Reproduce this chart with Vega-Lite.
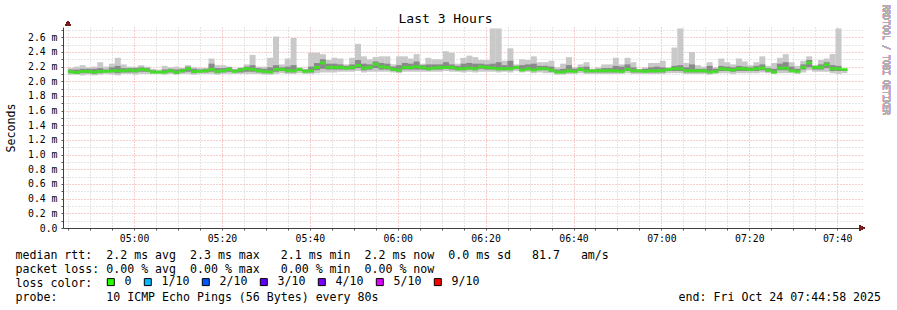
{
  "$schema": "https://vega.github.io/schema/vega-lite/v6.json",
  "width": 801,
  "height": 201,
  "padding": {"left": 5, "top": 5, "right": 0, "bottom": 0},
  "background": "#ffffff",
  "config": {"view": {"stroke": null}, "font": "DejaVu Sans Mono"},
  "title": {"text": "Last 3 Hours", "frame": "group", "anchor": "middle", "dx": -18, "dy": 24, "offset": 3, "font": "DejaVu Sans Mono", "fontSize": 13, "fontWeight": "normal", "color": "#000000"},
  "data": {"values": [
    {"t":"2025-10-24T04:45:38Z","lo":2.09,"q1":2.11,"m":2.130,"q3":2.16,"hi":2.18},
    {"t":"2025-10-24T04:46:58Z","lo":2.09,"q1":2.10,"m":2.121,"q3":2.16,"hi":2.20},
    {"t":"2025-10-24T04:48:18Z","lo":2.08,"q1":2.11,"m":2.134,"q3":2.17,"hi":2.22},
    {"t":"2025-10-24T04:49:38Z","lo":2.09,"q1":2.11,"m":2.134,"q3":2.17,"hi":2.19},
    {"t":"2025-10-24T04:50:58Z","lo":2.08,"q1":2.10,"m":2.125,"q3":2.17,"hi":2.20},
    {"t":"2025-10-24T04:52:18Z","lo":2.09,"q1":2.11,"m":2.134,"q3":2.18,"hi":2.26},
    {"t":"2025-10-24T04:53:38Z","lo":2.10,"q1":2.12,"m":2.134,"q3":2.16,"hi":2.20},
    {"t":"2025-10-24T04:54:58Z","lo":2.09,"q1":2.12,"m":2.143,"q3":2.19,"hi":2.24},
    {"t":"2025-10-24T04:56:18Z","lo":2.08,"q1":2.11,"m":2.143,"q3":2.21,"hi":2.32},
    {"t":"2025-10-24T04:57:38Z","lo":2.10,"q1":2.12,"m":2.143,"q3":2.18,"hi":2.23},
    {"t":"2025-10-24T04:58:58Z","lo":2.10,"q1":2.12,"m":2.153,"q3":2.18,"hi":2.20},
    {"t":"2025-10-24T05:00:18Z","lo":2.09,"q1":2.12,"m":2.143,"q3":2.18,"hi":2.20},
    {"t":"2025-10-24T05:01:38Z","lo":2.10,"q1":2.13,"m":2.162,"q3":2.19,"hi":2.22},
    {"t":"2025-10-24T05:02:58Z","lo":2.10,"q1":2.13,"m":2.153,"q3":2.18,"hi":2.20},
    {"t":"2025-10-24T05:04:18Z","lo":2.10,"q1":2.11,"m":2.125,"q3":2.15,"hi":2.17},
    {"t":"2025-10-24T05:05:38Z","lo":2.10,"q1":2.11,"m":2.125,"q3":2.14,"hi":2.16},
    {"t":"2025-10-24T05:06:58Z","lo":2.09,"q1":2.11,"m":2.125,"q3":2.16,"hi":2.21},
    {"t":"2025-10-24T05:08:18Z","lo":2.10,"q1":2.12,"m":2.143,"q3":2.17,"hi":2.19},
    {"t":"2025-10-24T05:09:38Z","lo":2.09,"q1":2.10,"m":2.121,"q3":2.16,"hi":2.20},
    {"t":"2025-10-24T05:10:58Z","lo":2.10,"q1":2.12,"m":2.143,"q3":2.17,"hi":2.18},
    {"t":"2025-10-24T05:12:18Z","lo":2.10,"q1":2.13,"m":2.171,"q3":2.20,"hi":2.22},
    {"t":"2025-10-24T05:13:38Z","lo":2.09,"q1":2.11,"m":2.134,"q3":2.17,"hi":2.19},
    {"t":"2025-10-24T05:14:58Z","lo":2.10,"q1":2.12,"m":2.134,"q3":2.16,"hi":2.18},
    {"t":"2025-10-24T05:16:18Z","lo":2.10,"q1":2.12,"m":2.143,"q3":2.17,"hi":2.18},
    {"t":"2025-10-24T05:17:38Z","lo":2.10,"q1":2.13,"m":2.162,"q3":2.24,"hi":2.31},
    {"t":"2025-10-24T05:18:58Z","lo":2.09,"q1":2.11,"m":2.134,"q3":2.18,"hi":2.22},
    {"t":"2025-10-24T05:20:18Z","lo":2.10,"q1":2.12,"m":2.143,"q3":2.18,"hi":2.22},
    {"t":"2025-10-24T05:21:38Z","lo":2.10,"q1":2.13,"m":2.162,"q3":2.19,"hi":2.20},
    {"t":"2025-10-24T05:22:58Z","lo":2.10,"q1":2.12,"m":2.134,"q3":2.16,"hi":2.17},
    {"t":"2025-10-24T05:24:18Z","lo":2.10,"q1":2.12,"m":2.153,"q3":2.18,"hi":2.19},
    {"t":"2025-10-24T05:25:38Z","lo":2.10,"q1":2.13,"m":2.171,"q3":2.20,"hi":2.23},
    {"t":"2025-10-24T05:26:58Z","lo":2.10,"q1":2.13,"m":2.162,"q3":2.22,"hi":2.36},
    {"t":"2025-10-24T05:28:18Z","lo":2.10,"q1":2.12,"m":2.143,"q3":2.18,"hi":2.20},
    {"t":"2025-10-24T05:29:38Z","lo":2.09,"q1":2.11,"m":2.134,"q3":2.17,"hi":2.20},
    {"t":"2025-10-24T05:30:58Z","lo":2.09,"q1":2.11,"m":2.125,"q3":2.19,"hi":2.32},
    {"t":"2025-10-24T05:32:18Z","lo":2.10,"q1":2.13,"m":2.162,"q3":2.22,"hi":2.61},
    {"t":"2025-10-24T05:33:38Z","lo":2.11,"q1":2.14,"m":2.162,"q3":2.19,"hi":2.23},
    {"t":"2025-10-24T05:34:58Z","lo":2.10,"q1":2.12,"m":2.143,"q3":2.20,"hi":2.31},
    {"t":"2025-10-24T05:36:18Z","lo":2.10,"q1":2.12,"m":2.143,"q3":2.22,"hi":2.59},
    {"t":"2025-10-24T05:37:38Z","lo":2.11,"q1":2.14,"m":2.162,"q3":2.18,"hi":2.19},
    {"t":"2025-10-24T05:38:58Z","lo":2.10,"q1":2.12,"m":2.134,"q3":2.16,"hi":2.17},
    {"t":"2025-10-24T05:40:18Z","lo":2.10,"q1":2.12,"m":2.143,"q3":2.20,"hi":2.39},
    {"t":"2025-10-24T05:41:38Z","lo":2.11,"q1":2.15,"m":2.189,"q3":2.25,"hi":2.39},
    {"t":"2025-10-24T05:42:58Z","lo":2.12,"q1":2.17,"m":2.252,"q3":2.30,"hi":2.37},
    {"t":"2025-10-24T05:44:18Z","lo":2.12,"q1":2.16,"m":2.189,"q3":2.24,"hi":2.29},
    {"t":"2025-10-24T05:45:38Z","lo":2.12,"q1":2.16,"m":2.189,"q3":2.24,"hi":2.32},
    {"t":"2025-10-24T05:46:58Z","lo":2.13,"q1":2.16,"m":2.189,"q3":2.23,"hi":2.31},
    {"t":"2025-10-24T05:48:18Z","lo":2.13,"q1":2.16,"m":2.180,"q3":2.21,"hi":2.23},
    {"t":"2025-10-24T05:49:38Z","lo":2.13,"q1":2.16,"m":2.189,"q3":2.23,"hi":2.32},
    {"t":"2025-10-24T05:50:58Z","lo":2.14,"q1":2.18,"m":2.216,"q3":2.29,"hi":2.51},
    {"t":"2025-10-24T05:52:18Z","lo":2.12,"q1":2.15,"m":2.180,"q3":2.24,"hi":2.34},
    {"t":"2025-10-24T05:53:38Z","lo":2.13,"q1":2.16,"m":2.189,"q3":2.23,"hi":2.30},
    {"t":"2025-10-24T05:54:58Z","lo":2.13,"q1":2.18,"m":2.234,"q3":2.27,"hi":2.33},
    {"t":"2025-10-24T05:56:18Z","lo":2.13,"q1":2.16,"m":2.198,"q3":2.25,"hi":2.34},
    {"t":"2025-10-24T05:57:38Z","lo":2.13,"q1":2.16,"m":2.189,"q3":2.24,"hi":2.34},
    {"t":"2025-10-24T05:58:58Z","lo":2.12,"q1":2.14,"m":2.162,"q3":2.20,"hi":2.23},
    {"t":"2025-10-24T06:00:18Z","lo":2.11,"q1":2.13,"m":2.153,"q3":2.22,"hi":2.34},
    {"t":"2025-10-24T06:01:38Z","lo":2.13,"q1":2.16,"m":2.189,"q3":2.25,"hi":2.34},
    {"t":"2025-10-24T06:02:58Z","lo":2.13,"q1":2.16,"m":2.189,"q3":2.24,"hi":2.31},
    {"t":"2025-10-24T06:04:18Z","lo":2.13,"q1":2.16,"m":2.198,"q3":2.27,"hi":2.37},
    {"t":"2025-10-24T06:05:38Z","lo":2.13,"q1":2.16,"m":2.189,"q3":2.22,"hi":2.24},
    {"t":"2025-10-24T06:06:58Z","lo":2.13,"q1":2.15,"m":2.171,"q3":2.23,"hi":2.32},
    {"t":"2025-10-24T06:08:18Z","lo":2.13,"q1":2.16,"m":2.180,"q3":2.23,"hi":2.30},
    {"t":"2025-10-24T06:09:38Z","lo":2.13,"q1":2.16,"m":2.189,"q3":2.23,"hi":2.30},
    {"t":"2025-10-24T06:10:58Z","lo":2.14,"q1":2.17,"m":2.189,"q3":2.26,"hi":2.41},
    {"t":"2025-10-24T06:12:18Z","lo":2.13,"q1":2.16,"m":2.189,"q3":2.23,"hi":2.39},
    {"t":"2025-10-24T06:13:38Z","lo":2.13,"q1":2.15,"m":2.171,"q3":2.21,"hi":2.24},
    {"t":"2025-10-24T06:14:58Z","lo":2.12,"q1":2.15,"m":2.171,"q3":2.24,"hi":2.32},
    {"t":"2025-10-24T06:16:18Z","lo":2.13,"q1":2.16,"m":2.180,"q3":2.25,"hi":2.35},
    {"t":"2025-10-24T06:17:38Z","lo":2.12,"q1":2.15,"m":2.171,"q3":2.24,"hi":2.33},
    {"t":"2025-10-24T06:18:58Z","lo":2.13,"q1":2.17,"m":2.198,"q3":2.24,"hi":2.29},
    {"t":"2025-10-24T06:20:18Z","lo":2.13,"q1":2.16,"m":2.189,"q3":2.23,"hi":2.29},
    {"t":"2025-10-24T06:21:38Z","lo":2.13,"q1":2.16,"m":2.180,"q3":2.24,"hi":2.72},
    {"t":"2025-10-24T06:22:58Z","lo":2.12,"q1":2.15,"m":2.171,"q3":2.26,"hi":2.72},
    {"t":"2025-10-24T06:24:18Z","lo":2.13,"q1":2.15,"m":2.171,"q3":2.22,"hi":2.28},
    {"t":"2025-10-24T06:25:38Z","lo":2.12,"q1":2.15,"m":2.171,"q3":2.28,"hi":2.45},
    {"t":"2025-10-24T06:26:58Z","lo":2.14,"q1":2.17,"m":2.189,"q3":2.21,"hi":2.23},
    {"t":"2025-10-24T06:28:18Z","lo":2.12,"q1":2.14,"m":2.153,"q3":2.22,"hi":2.30},
    {"t":"2025-10-24T06:29:38Z","lo":2.13,"q1":2.15,"m":2.171,"q3":2.23,"hi":2.29},
    {"t":"2025-10-24T06:30:58Z","lo":2.11,"q1":2.14,"m":2.153,"q3":2.24,"hi":2.34},
    {"t":"2025-10-24T06:32:18Z","lo":2.12,"q1":2.15,"m":2.171,"q3":2.21,"hi":2.26},
    {"t":"2025-10-24T06:33:38Z","lo":2.11,"q1":2.15,"m":2.171,"q3":2.21,"hi":2.26},
    {"t":"2025-10-24T06:34:58Z","lo":2.11,"q1":2.13,"m":2.153,"q3":2.20,"hi":2.28},
    {"t":"2025-10-24T06:36:18Z","lo":2.09,"q1":2.11,"m":2.125,"q3":2.16,"hi":2.19},
    {"t":"2025-10-24T06:37:38Z","lo":2.09,"q1":2.11,"m":2.125,"q3":2.17,"hi":2.24},
    {"t":"2025-10-24T06:38:58Z","lo":2.10,"q1":2.12,"m":2.143,"q3":2.22,"hi":2.33},
    {"t":"2025-10-24T06:40:18Z","lo":2.10,"q1":2.12,"m":2.134,"q3":2.17,"hi":2.19},
    {"t":"2025-10-24T06:41:38Z","lo":2.11,"q1":2.14,"m":2.162,"q3":2.19,"hi":2.23},
    {"t":"2025-10-24T06:42:58Z","lo":2.10,"q1":2.12,"m":2.143,"q3":2.20,"hi":2.26},
    {"t":"2025-10-24T06:44:18Z","lo":2.10,"q1":2.12,"m":2.143,"q3":2.16,"hi":2.17},
    {"t":"2025-10-24T06:45:38Z","lo":2.10,"q1":2.12,"m":2.143,"q3":2.17,"hi":2.19},
    {"t":"2025-10-24T06:46:58Z","lo":2.10,"q1":2.12,"m":2.143,"q3":2.18,"hi":2.23},
    {"t":"2025-10-24T06:48:18Z","lo":2.10,"q1":2.12,"m":2.143,"q3":2.18,"hi":2.23},
    {"t":"2025-10-24T06:49:38Z","lo":2.10,"q1":2.12,"m":2.143,"q3":2.21,"hi":2.32},
    {"t":"2025-10-24T06:50:58Z","lo":2.10,"q1":2.12,"m":2.134,"q3":2.20,"hi":2.23},
    {"t":"2025-10-24T06:52:18Z","lo":2.11,"q1":2.14,"m":2.162,"q3":2.23,"hi":2.32},
    {"t":"2025-10-24T06:53:38Z","lo":2.10,"q1":2.12,"m":2.143,"q3":2.19,"hi":2.26},
    {"t":"2025-10-24T06:54:58Z","lo":2.10,"q1":2.12,"m":2.143,"q3":2.16,"hi":2.17},
    {"t":"2025-10-24T06:56:18Z","lo":2.10,"q1":2.12,"m":2.134,"q3":2.17,"hi":2.19},
    {"t":"2025-10-24T06:57:38Z","lo":2.10,"q1":2.12,"m":2.143,"q3":2.19,"hi":2.25},
    {"t":"2025-10-24T06:58:58Z","lo":2.10,"q1":2.12,"m":2.143,"q3":2.20,"hi":2.25},
    {"t":"2025-10-24T07:00:18Z","lo":2.10,"q1":2.12,"m":2.143,"q3":2.19,"hi":2.28},
    {"t":"2025-10-24T07:01:38Z","lo":2.11,"q1":2.14,"m":2.162,"q3":2.18,"hi":2.19},
    {"t":"2025-10-24T07:02:58Z","lo":2.11,"q1":2.14,"m":2.171,"q3":2.21,"hi":2.46},
    {"t":"2025-10-24T07:04:18Z","lo":2.11,"q1":2.14,"m":2.171,"q3":2.22,"hi":2.72},
    {"t":"2025-10-24T07:05:38Z","lo":2.10,"q1":2.12,"m":2.143,"q3":2.19,"hi":2.25},
    {"t":"2025-10-24T07:06:58Z","lo":2.10,"q1":2.12,"m":2.143,"q3":2.23,"hi":2.40},
    {"t":"2025-10-24T07:08:18Z","lo":2.10,"q1":2.12,"m":2.143,"q3":2.17,"hi":2.22},
    {"t":"2025-10-24T07:09:38Z","lo":2.10,"q1":2.12,"m":2.143,"q3":2.17,"hi":2.20},
    {"t":"2025-10-24T07:10:58Z","lo":2.09,"q1":2.11,"m":2.125,"q3":2.21,"hi":2.26},
    {"t":"2025-10-24T07:12:18Z","lo":2.10,"q1":2.12,"m":2.134,"q3":2.17,"hi":2.19},
    {"t":"2025-10-24T07:13:38Z","lo":2.11,"q1":2.14,"m":2.171,"q3":2.21,"hi":2.31},
    {"t":"2025-10-24T07:14:58Z","lo":2.11,"q1":2.14,"m":2.162,"q3":2.20,"hi":2.26},
    {"t":"2025-10-24T07:16:18Z","lo":2.10,"q1":2.13,"m":2.153,"q3":2.19,"hi":2.23},
    {"t":"2025-10-24T07:17:38Z","lo":2.11,"q1":2.14,"m":2.171,"q3":2.21,"hi":2.31},
    {"t":"2025-10-24T07:18:58Z","lo":2.11,"q1":2.14,"m":2.171,"q3":2.20,"hi":2.27},
    {"t":"2025-10-24T07:20:18Z","lo":2.11,"q1":2.14,"m":2.162,"q3":2.19,"hi":2.22},
    {"t":"2025-10-24T07:21:38Z","lo":2.11,"q1":2.14,"m":2.171,"q3":2.21,"hi":2.26},
    {"t":"2025-10-24T07:22:58Z","lo":2.12,"q1":2.15,"m":2.180,"q3":2.23,"hi":2.34},
    {"t":"2025-10-24T07:24:18Z","lo":2.11,"q1":2.13,"m":2.153,"q3":2.18,"hi":2.21},
    {"t":"2025-10-24T07:25:38Z","lo":2.10,"q1":2.11,"m":2.125,"q3":2.17,"hi":2.25},
    {"t":"2025-10-24T07:26:58Z","lo":2.11,"q1":2.15,"m":2.180,"q3":2.24,"hi":2.32},
    {"t":"2025-10-24T07:28:18Z","lo":2.11,"q1":2.15,"m":2.180,"q3":2.26,"hi":2.37},
    {"t":"2025-10-24T07:29:38Z","lo":2.11,"q1":2.13,"m":2.143,"q3":2.20,"hi":2.26},
    {"t":"2025-10-24T07:30:58Z","lo":2.10,"q1":2.12,"m":2.134,"q3":2.17,"hi":2.21},
    {"t":"2025-10-24T07:32:18Z","lo":2.12,"q1":2.16,"m":2.189,"q3":2.23,"hi":2.28},
    {"t":"2025-10-24T07:33:38Z","lo":2.15,"q1":2.19,"m":2.252,"q3":2.29,"hi":2.34},
    {"t":"2025-10-24T07:34:58Z","lo":2.13,"q1":2.16,"m":2.189,"q3":2.21,"hi":2.22},
    {"t":"2025-10-24T07:36:18Z","lo":2.13,"q1":2.16,"m":2.189,"q3":2.23,"hi":2.29},
    {"t":"2025-10-24T07:37:38Z","lo":2.13,"q1":2.18,"m":2.225,"q3":2.26,"hi":2.31},
    {"t":"2025-10-24T07:38:58Z","lo":2.11,"q1":2.14,"m":2.171,"q3":2.22,"hi":2.37},
    {"t":"2025-10-24T07:40:18Z","lo":2.10,"q1":2.14,"m":2.171,"q3":2.21,"hi":2.72},
    {"t":"2025-10-24T07:41:38Z","lo":2.11,"q1":2.14,"m":2.162,"q3":2.17,"hi":2.17}
  ]},
  "resolve": {"axis": {"x": "independent", "y": "independent"}},
  "layer": [
    {
      "mark": {"type": "bar", "width": 6, "color": "#c9c9c9"},
      "encoding": {
        "x": {
          "field": "t", "type": "temporal",
          "scale": {"type": "utc", "domain": [1761281098000, 1761291898000]},
          "axis": {
            "orient": "bottom",
            "values": [1761281100000, 1761281400000, 1761281700000, 1761282300000, 1761282600000, 1761282900000, 1761283500000, 1761283800000, 1761284100000, 1761284700000, 1761285000000, 1761285300000, 1761285900000, 1761286200000, 1761286500000, 1761287100000, 1761287400000, 1761287700000, 1761288300000, 1761288600000, 1761288900000, 1761289500000, 1761289800000, 1761290100000, 1761290700000, 1761291000000, 1761291300000],
            "labels": false, "title": null,
            "grid": true, "gridColor": "#cccccc", "gridDash": [1, 2],
            "ticks": true, "tickSize": 2, "tickColor": "#555555",
            "domain": true, "domainColor": "#404040"
          }
        },
        "y": {
          "field": "lo", "type": "quantitative",
          "scale": {"domain": [0, 2.74], "nice": false, "zero": false},
          "axis": {
            "orient": "left",
            "values": [0.1, 0.3, 0.5, 0.7, 0.9, 1.1, 1.3, 1.5, 1.7, 1.9, 2.1, 2.3, 2.5, 2.7],
            "labels": false, "title": null,
            "grid": true, "gridColor": "#cccccc", "gridDash": [1, 2],
            "ticks": true, "tickSize": 2, "tickColor": "#555555",
            "domain": true, "domainColor": "#404040"
          }
        },
        "y2": {"field": "hi"}
      }
    },
    {
      "mark": {"type": "bar", "width": 6, "color": "#8a8a8a"},
      "encoding": {
        "x": {
          "field": "t", "type": "temporal",
          "axis": {
            "orient": "bottom",
            "values": [1761282000000, 1761283200000, 1761284400000, 1761285600000, 1761286800000, 1761288000000, 1761289200000, 1761290400000, 1761291600000],
            "labelExpr": "utcFormat(datum.value, '%H:%M')",
            "labelFont": "DejaVu Sans Mono", "labelFontSize": 9.8, "labelColor": "#000000",
            "labelFlush": false, "labelPadding": 3,
            "grid": true, "gridColor": "#ee9a9a", "gridDash": [1, 2],
            "ticks": true, "tickSize": 2, "tickColor": "#555555",
            "domain": false,
            "title": [
              "median rtt:\u00a0\u00a02.2 ms avg\u00a0\u00a02.3 ms max\u00a0\u00a0\u00a02.1 ms min\u00a0\u00a02.2 ms now\u00a0\u00a00.0 ms sd\u00a0\u00a0\u00a081.7\u00a0\u00a0\u00a0am/s",
              "packet loss: 0.00 % avg\u00a0\u00a00.00 % max\u00a0\u00a0\u00a00.00 % min\u00a0\u00a00.00 % now",
              "loss color:",
              "probe:\u00a0\u00a0\u00a0\u00a0\u00a0\u00a0\u00a010 ICMP Echo Pings (56 Bytes) every 80s\u00a0\u00a0\u00a0\u00a0\u00a0\u00a0\u00a0\u00a0\u00a0\u00a0\u00a0\u00a0\u00a0\u00a0\u00a0\u00a0\u00a0\u00a0\u00a0\u00a0\u00a0\u00a0\u00a0\u00a0\u00a0\u00a0\u00a0\u00a0\u00a0\u00a0\u00a0\u00a0\u00a0\u00a0\u00a0\u00a0\u00a0\u00a0\u00a0\u00a0\u00a0\u00a0\u00a0end: Fri Oct 24 07:44:58 2025"
            ],
            "titleFont": "DejaVu Sans Mono", "titleFontSize": 11.6, "titleFontWeight": "normal", "titleColor": "#000000",
            "titleAlign": "left", "titleAnchor": "start", "titleAngle": 0,
            "titleX": -48, "titleY": 30, "titleBaseline": "alphabetic", "titleLineHeight": 14.2
          }
        },
        "y": {
          "field": "q1", "type": "quantitative",
          "axis": {
            "orient": "left",
            "values": [0, 0.2, 0.4, 0.6, 0.8, 1.0, 1.2, 1.4, 1.6, 1.8, 2.0, 2.2, 2.4, 2.6],
            "labelExpr": "datum.value == 0 ? '0.0' : format(datum.value, '.1f') + ' m'",
            "labelFont": "DejaVu Sans Mono", "labelFontSize": 9.8, "labelColor": "#000000",
            "labelPadding": 4, "labelFlush": false,
            "grid": true, "gridColor": "#ee9a9a", "gridDash": [1, 2],
            "ticks": true, "tickSize": 2, "tickColor": "#555555",
            "domain": false,
            "title": "Seconds",
            "titleFont": "DejaVu Sans Mono", "titleFontSize": 11.6, "titleFontWeight": "normal", "titleColor": "#000000",
            "titlePadding": 11
          }
        },
        "y2": {"field": "q3"}
      }
    },
    {
      "mark": {"type": "tick", "orient": "horizontal", "thickness": 3, "size": 6},
      "encoding": {
        "x": {"field": "t", "type": "temporal", "axis": null},
        "y": {"field": "m", "type": "quantitative", "axis": null},
        "color": {
          "datum": "0", "type": "nominal",
          "scale": {
            "domain": ["0", "1/10", "2/10", "3/10", "4/10", "5/10", "9/10"],
            "range": ["#26ff00", "#00b8ff", "#0059ff", "#5e00ff", "#7e00ff", "#dd00ff", "#ff0000"]
          },
          "legend": {
            "orient": "none", "legendX": 42, "legendY": 249,
            "direction": "horizontal", "columns": 7,
            "title": null,
            "symbolType": "square", "symbolSize": 49, "symbolStrokeColor": "#000000", "symbolStrokeWidth": 1, "symbolOpacity": 1,
            "labelFont": "DejaVu Sans Mono", "labelFontSize": 11.6, "labelColor": "#000000",
            "labelOffset": 8, "columnPadding": 10
          }
        }
      }
    },
    {
      "mark": {"type": "text", "text": "RRDTOOL / TOBI OETIKER", "angle": 90, "align": "left", "baseline": "middle", "dx": -22, "dy": -26, "font": "DejaVu Sans Mono", "fontSize": 8.3, "color": "#b0b0b0"},
      "encoding": {
        "x": {"datum": 1761291898000, "type": "temporal", "axis": null},
        "y": {"datum": 2.74, "type": "quantitative", "axis": null}
      }
    },
    {
      "mark": {"type": "point", "shape": "triangle-up", "filled": true, "color": "#7a1c1c", "size": 30, "opacity": 1},
      "encoding": {
        "x": {"datum": 1761281098000, "type": "temporal", "axis": null},
        "y": {"datum": 2.79, "type": "quantitative", "axis": null}
      }
    },
    {
      "mark": {"type": "point", "shape": "triangle-right", "filled": true, "color": "#7a1c1c", "size": 30, "opacity": 1},
      "encoding": {
        "x": {"datum": 1761291940000, "type": "temporal", "axis": null},
        "y": {"datum": 0, "type": "quantitative", "axis": null}
      }
    }
  ]
}
